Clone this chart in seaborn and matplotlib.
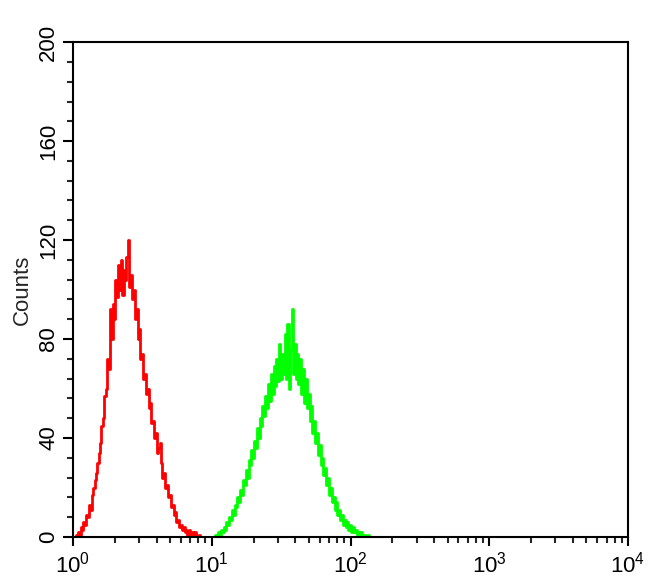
import numpy as np
import pandas as pd
import matplotlib
matplotlib.use("Agg")
import matplotlib.pyplot as plt
import seaborn as sns
from matplotlib.ticker import MultipleLocator, LogLocator


# 1. HISTOGRAM COUNTS (one value per 0.01 decade)

# isotype / negative control (red), channel grid starts at 10^0.00
red_start = 0.00
red_counts = [
    0, 0, 0, 1, 2, 1, 4, 3, 6, 5,
    9, 8, 13, 11, 17, 20, 23, 26, 30, 34,
    38, 45, 48, 57, 60, 72, 68, 92, 80, 94,
    88, 104, 97, 110, 100, 112, 98, 108, 104, 113,
    120, 101, 106, 96, 100, 88, 92, 80, 84, 72,
    74, 64, 66, 58, 60, 52, 54, 46, 47, 40,
    42, 34, 36, 38, 30, 24, 26, 20, 21, 16,
    17, 12, 13, 9, 10, 6, 7, 4, 5, 3,
    4, 2, 3, 1, 3, 1, 2, 0, 2, 1,
    0, 1, 0, 0, 0, 0,
]

# stained sample (green), channel grid starts at 10^1.00
green_start = 1.00
green_counts = [
    0, 0, 0, 1, 0, 2, 1, 3, 2, 4,
    3, 6, 5, 8, 7, 11, 9, 13, 12, 16,
    14, 19, 17, 23, 21, 27, 24, 31, 29, 35,
    32, 39, 36, 44, 40, 48, 45, 53, 49, 57,
    52, 62, 55, 66, 58, 69, 61, 72, 63, 78,
    64, 74, 66, 82, 64, 86, 60, 76, 92, 66,
    78, 64, 74, 62, 72, 58, 68, 54, 64, 52,
    58, 47, 53, 42, 47, 38, 42, 33, 37, 29,
    32, 25, 28, 21, 24, 17, 20, 14, 16, 11,
    14, 9, 11, 7, 9, 5, 7, 4, 6, 3,
    5, 2, 4, 2, 3, 1, 2, 1, 2, 0,
    1, 1, 0, 1, 0, 0, 0,
]

y_ticks = [0, 40, 80, 120, 160, 200]


# 2. TIDY TABLE FOR SEABORN

def to_frame(counts, start, name):
    chan = 10 ** (start + 0.01 * np.arange(len(counts)))
    return pd.DataFrame({"FL": chan, "Counts": counts, "sample": name})

df = pd.concat([
    to_frame(red_counts, red_start, "control"),
    to_frame(green_counts, green_start, "stained"),
], ignore_index=True)


# 3. PLOT

sns.set_style("ticks")
plt.rcParams["font.family"] = ["Liberation Sans", "DejaVu Sans"]
plt.rcParams["mathtext.fontset"] = "custom"
plt.rcParams["mathtext.rm"] = "Liberation Sans"
plt.rcParams["mathtext.default"] = "regular"

fig = plt.figure(figsize=(6.5, 5.85), dpi=100)
ax = fig.add_axes([0.1123, 0.082, 0.8539, 0.846])

sns.lineplot(
    data=df, x="FL", y="Counts", hue="sample",
    palette={"control": "#ff0000", "stained": "#00ff00"},
    drawstyle="steps-mid", linewidth=2.0, legend=False, ax=ax,
)

ax.set_xscale("log")
ax.set_xlim(1, 1e4)
ax.set_ylim(0, 200)
ax.set_yticks(y_ticks)
ax.yaxis.set_minor_locator(MultipleLocator(8))
ax.xaxis.set_major_locator(LogLocator(base=10, numticks=10))
ax.xaxis.set_minor_locator(LogLocator(base=10, subs=np.arange(2, 10), numticks=50))

for side in ["top", "right", "left", "bottom"]:
    ax.spines[side].set_visible(True)
    ax.spines[side].set_linewidth(1.5)
    ax.spines[side].set_color("black")

ax.tick_params(axis="both", which="major", direction="out", width=1.5,
               color="black", labelsize=16, labelcolor="black")
ax.tick_params(axis="y", which="major", length=7, pad=3, labelrotation=90)
ax.tick_params(axis="y", which="minor", length=4.5, width=1.5)
ax.tick_params(axis="x", which="major", length=6.5, pad=4)
ax.tick_params(axis="x", which="minor", length=4.5, width=1.5)
for lab in ax.get_yticklabels():
    lab.set_va("center")

ax.set_xlabel("")
ax.set_ylabel("Counts", fontsize=16, labelpad=4)

fig.savefig("out.png", dpi=100)
